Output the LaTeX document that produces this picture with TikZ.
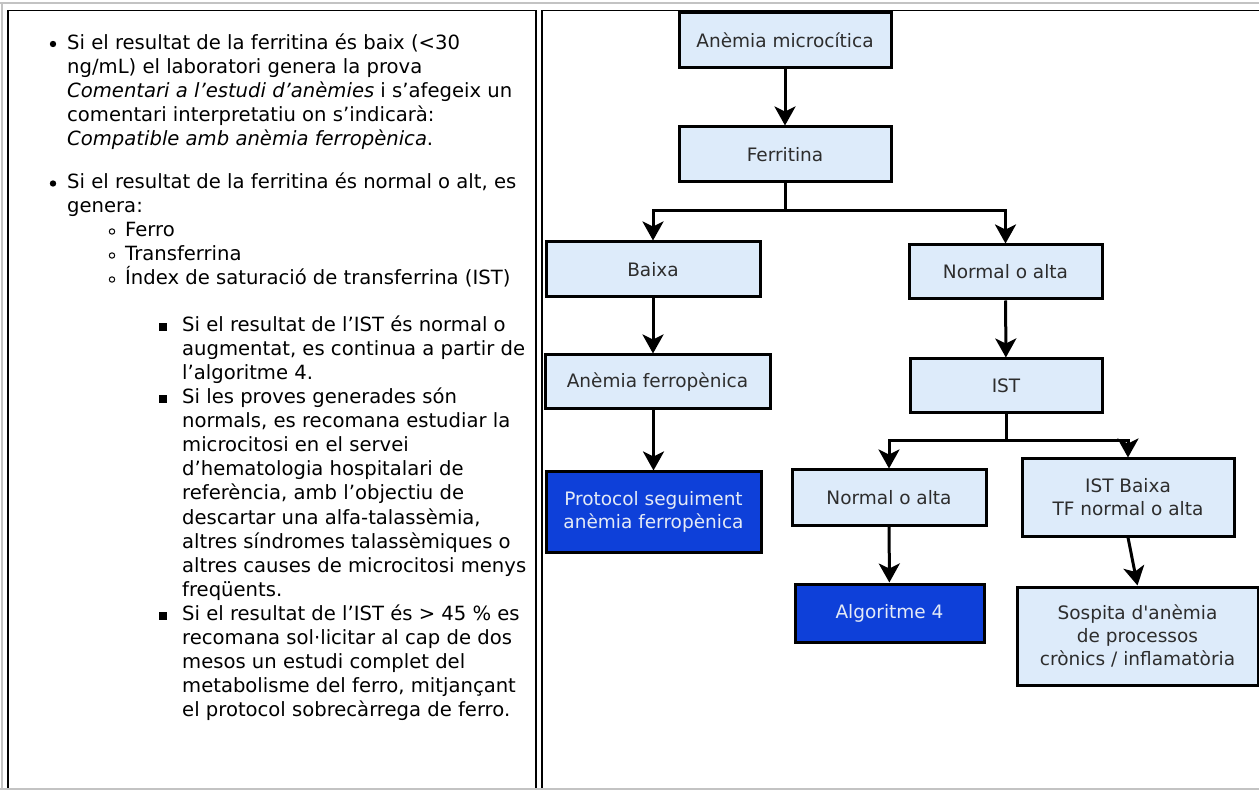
\documentclass[tikz,border=0pt]{standalone}
\usepackage{fontspec}
\setmainfont{DejaVu Sans}
\newfontfamily\flowfont{DejaVu Sans}[Ligatures=TeXOff]
\usetikzlibrary{arrows.meta}
\definecolor{boxfill}{RGB}{221,235,250}
\definecolor{darkfill}{RGB}{14,64,217}
\definecolor{flowtext}{RGB}{45,45,45}
\definecolor{gridgray}{RGB}{195,195,195}
\definecolor{lighttext}{RGB}{228,234,246}
\begin{document}
\begin{tikzpicture}[x=1pt,y=-1pt,
  lt/.style={anchor=base west, inner sep=0pt, font=\fontsize{19.6}{24}\selectfont},
  fbox/.style={draw=black, line width=3pt, fill=boxfill, text=flowtext,
    font=\flowfont\fontsize{18.5}{23}\selectfont, align=center, inner sep=0pt},
  dbox/.style={fbox, fill=darkfill, text=lighttext},
  conn/.style={line width=3pt, -{Stealth[length=19pt,width=21pt,inset=5pt]}},
  plain/.style={line width=3pt},
  cellline/.style={black, line width=1.3pt},
  outerline/.style={gridgray, line width=1.5pt}]
\useasboundingbox (0,0) rectangle (1259,791);
\fill[white] (0,0) rectangle (1259,791);
% table lines
\draw[outerline] (0,3) -- (1259,3);
\draw[outerline] (2,3) -- (2,789);
\draw[cellline] (8,10.5) -- (536,10.5);
\draw[cellline] (8,10.5) -- (8,789);
\draw[cellline] (536,10.5) -- (536,789);
\draw[cellline] (542,10.5) -- (1259,10.5);
\draw[cellline] (542,10.5) -- (542,789);
\draw[outerline] (0,789) -- (1259,789);
% bullets
\fill (53,44) circle (3.2);
\fill (53,183.5) circle (3.2);
\draw[line width=1pt] (112,231.5) circle (2.7);
\draw[line width=1pt] (112,255.5) circle (2.7);
\draw[line width=1pt] (112,279.5) circle (2.7);
\fill (159,323.5) rectangle (167,331.5);
\fill (159,395.5) rectangle (167,403.5);
\fill (159,611.5) rectangle (167,619.5);
% left text
\node[lt] (l1) at (67,49.5) {Si el resultat de la ferritina és baix (<30};
\node[lt] (l2) at (67,73.5) {ng/mL) el laboratori genera la prova};
\node[lt] (l3) at (67,97.5) {\itshape Comentari a l’estudi d’anèmies\upshape{} i s’afegeix un};
\node[lt] (l4) at (67,121.5) {comentari interpretatiu on s’indicarà:};
\node[lt] (l5) at (67,145.5) {\itshape Compatible amb anèmia ferropènica\upshape.};
\node[lt] (l6) at (67,189) {Si el resultat de la ferritina és normal o alt, es};
\node[lt] (l7) at (67,213) {genera:};
\node[lt] (l8) at (125,237) {Ferro};
\node[lt] (l9) at (125,261) {Transferrina};
\node[lt] (l10) at (125,285) {Índex de saturació de transferrina (IST)};
\node[lt] (l11) at (182,332) {Si el resultat de l’IST és normal o};
\node[lt] (l12) at (182,356) {augmentat, es continua a partir de};
\node[lt] (l13) at (182,380) {l’algoritme 4.};
\node[lt] (l14) at (182,404) {Si les proves generades són};
\node[lt] (l15) at (182,428) {normals, es recomana estudiar la};
\node[lt] (l16) at (182,452) {microcitosi en el servei};
\node[lt] (l17) at (182,476) {d’hematologia hospitalari de};
\node[lt] (l18) at (182,500) {referència, amb l’objectiu de};
\node[lt] (l19) at (182,524) {descartar una alfa-talassèmia,};
\node[lt] (l20) at (182,548) {altres síndromes talassèmiques o};
\node[lt] (l21) at (182,572) {altres causes de microcitosi menys};
\node[lt] (l22) at (182,596) {freqüents.};
\node[lt] (l23) at (182,620) {Si el resultat de l’IST és > 45 \% es};
\node[lt] (l24) at (182,644) {recomana sol·licitar al cap de dos};
\node[lt] (l25) at (182,668) {mesos un estudi complet del};
\node[lt] (l26) at (182,692) {metabolisme del ferro, mitjançant};
\node[lt] (l27) at (182,716) {el protocol sobrecàrrega de ferro.};
% flowchart
\begin{scope}
\clip (543,11) rectangle (1259,686);
\node[fbox, minimum width=212pt, minimum height=55pt] (A) at (785,40.5) {Anèmia microcítica};
\node[fbox, minimum width=212pt, minimum height=55pt] (F) at (785,154.5) {Ferritina};
\node[fbox, minimum width=214pt, minimum height=55pt] (B) at (653,269.5) {Baixa};
\node[fbox, minimum width=193pt, minimum height=54pt] (N) at (1005.5,272) {Normal o alta};
\node[fbox, minimum width=225pt, minimum height=54pt] (AF) at (657.5,382) {Anèmia ferropènica};
\node[fbox, minimum width=192pt, minimum height=54pt] (IST) at (1006,386) {IST};
\node[dbox, minimum width=215pt, minimum height=80pt] (P) at (653.5,512) {Protocol seguiment\\anèmia ferropènica};
\node[fbox, minimum width=194pt, minimum height=55pt] (N2) at (889,497.5) {Normal o alta};
\node[fbox, minimum width=212pt, minimum height=77pt] (ISTB) at (1128,497.5) {IST Baixa\\TF normal o alta};
\node[dbox, minimum width=189pt, minimum height=58pt] (ALG) at (889.5,613) {Algoritme 4};
\node[fbox, minimum width=241pt, minimum height=98pt] (S) at (1137.5,636) {Sospita d'anèmia\\de processos\\crònics / inflamatòria};
\coordinate (fj) at (785,211);
\coordinate (ij) at (1006,441);
\draw[conn] (A) -- (F);
\draw[plain] (F.south) -- (fj);
\draw[conn] (fj) -| (B.north);
\draw[conn] (fj) -| (N.north);
\draw[conn] (B.south) -- (B.south |- AF.north);
\draw[conn] (P.north |- AF.south) -- (P.north);
\draw[conn] (N) -- (IST);
\draw[plain] (IST.south) -- (ij);
\draw[conn] (ij) -| (N2.north);
\draw[conn] (ij) -| (ISTB.north);
\draw[conn] (N2) -- (ALG);
\draw[conn] (ISTB.south) -- (S.north);
\end{scope}
\end{tikzpicture}
\end{document}
